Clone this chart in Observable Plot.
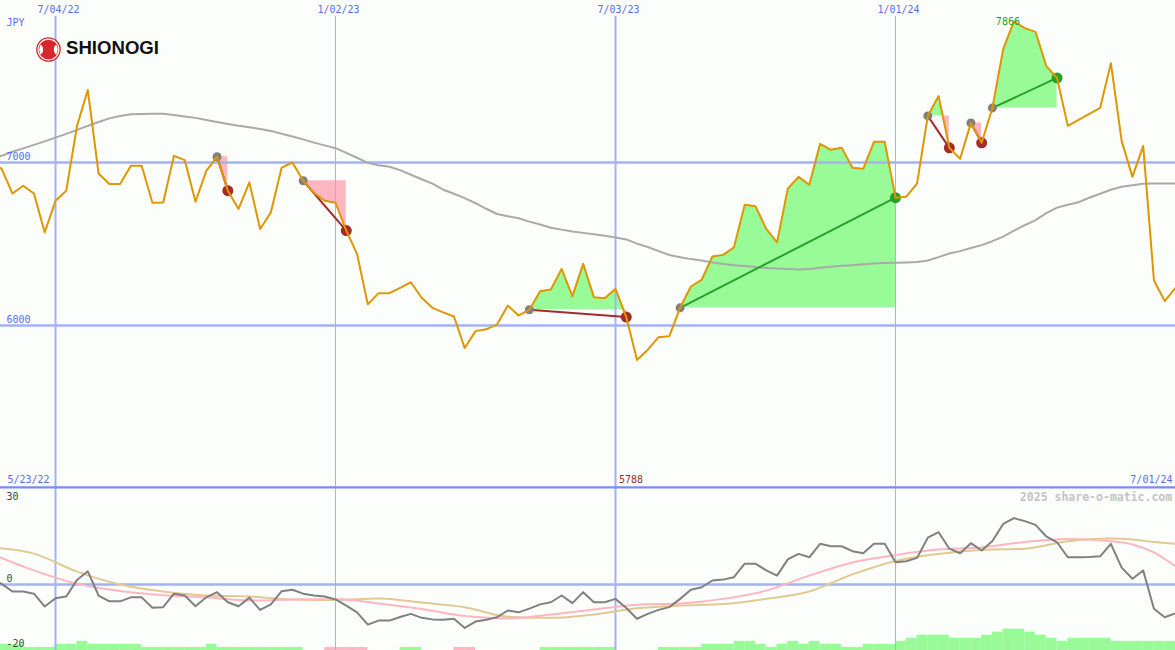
<!DOCTYPE html>
<html>
<head>
<meta charset="utf-8">
<script src="https://cdn.jsdelivr.net/npm/d3@7"></script>
<script src="https://cdn.jsdelivr.net/npm/@observablehq/plot@0.6"></script>
<style>
  html, body { margin: 0; padding: 0; background: #fbfefb; }
  #chart { position: relative; width: 1175px; height: 650px; overflow: hidden; background: #fbfefb; }
  #chart svg.plot { display: block; }
  #logo { position: absolute; left: 0; top: 0; pointer-events: none; }
</style>
</head>
<body>
<div id="chart">
  <svg id="logo" width="200" height="70">
    <defs><clipPath id="logoInner"><circle cx="48.5" cy="49.5" r="9.2"/></clipPath></defs>
    <circle cx="48.5" cy="49.5" r="12.3" fill="#d9262c"/>
    <circle cx="48.5" cy="49.5" r="10.4" fill="none" stroke="#fff" stroke-width="1.1"/>
    <g clip-path="url(#logoInner)">
      <ellipse cx="39.5" cy="49.5" rx="3.6" ry="5.2" fill="#fff"/>
      <ellipse cx="57.5" cy="49.5" rx="3.6" ry="5.2" fill="#fff"/>
    </g>
    <text x="66" y="53.5" font-family="Liberation Sans, Arial, sans-serif" font-weight="bold" font-size="18.6" fill="#111">SHIONOGI</text>
  </svg>
</div>
<script>
// Weekly closing prices (JPY), one per Monday from 5/23/22 to 7/01/24
const prices = [
  7010, 6961, 6810, 6857, 6810, 6571, 6765, 6827, 7225, 7445,
  6933, 6868, 6868, 6980, 6980, 6753, 6755, 7041, 7015, 6759,
  6949, 7035, 6827, 6715, 6878, 6592, 6694, 6969, 7000, 6888,
  6814, 6765, 6753, 6582, 6439, 6129, 6198, 6198, 6231, 6265,
  6170, 6108, 6080, 6055, 5861, 5965, 5976, 6006, 6122, 6061,
  6096, 6210, 6220, 6347, 6178, 6378, 6173, 6167, 6225, 6051,
  5788, 5851, 5928, 5934, 6108, 6239, 6280, 6423, 6433, 6479,
  6741, 6731, 6592, 6510, 6839, 6912, 6863, 7115, 7078, 7090,
  6968, 6961, 7127, 7127, 6784, 6790, 6870, 7286, 7408, 7090,
  7023, 7243, 7121, 7335, 7696, 7866, 7825, 7802, 7592, 7519,
  7225, 7261, 7298, 7335, 7610, 7133, 6912, 7102, 6276, 6149, 6231
];

// Long moving average of the price
const longAverage = [
  7023, 7041, 7066, 7087, 7108, 7130, 7153, 7176, 7200, 7225,
  7249, 7271, 7286, 7296, 7298, 7300, 7300, 7292, 7283, 7274,
  7261, 7249, 7237, 7225, 7216, 7206, 7194, 7176, 7160, 7142,
  7122, 7105, 7088, 7059, 7029, 6998, 6983, 6974, 6953, 6925,
  6897, 6870, 6833, 6808, 6781, 6750, 6716, 6684, 6670, 6658,
  6637, 6619, 6600, 6588, 6576, 6568, 6560, 6551, 6539, 6528,
  6502, 6481, 6456, 6432, 6419, 6407, 6398, 6386, 6377, 6370,
  6364, 6358, 6353, 6349, 6346, 6343, 6347, 6354, 6360, 6366,
  6370, 6375, 6380, 6383, 6384, 6386, 6389, 6398, 6419, 6441,
  6456, 6475, 6493, 6517, 6545, 6582, 6615, 6646, 6689, 6723,
  6741, 6756, 6784, 6808, 6833, 6851, 6860, 6870, 6871, 6871, 6871
];

// Momentum oscillator (lower panel)
const oscillator = [
  2.0, 0.2, -2.3, -2.3, -3.0, -7.2, -4.5, -3.9, 1.5, 4.3,
  -3.6, -5.5, -5.5, -4.2, -4.2, -7.6, -7.4, -3.0, -3.6, -7.1,
  -4.2, -2.5, -5.8, -7.1, -4.3, -8.3, -6.5, -2.2, -1.7, -3.0,
  -3.6, -3.9, -4.9, -6.9, -9.1, -13.1, -11.8, -11.8, -10.6, -9.6,
  -10.9, -11.4, -11.5, -11.2, -14.2, -12.1, -11.5, -10.7, -8.5, -9.1,
  -7.9, -6.5, -5.8, -3.6, -6.1, -2.5, -5.8, -5.8, -4.7, -7.7,
  -11.2, -9.6, -8.3, -7.4, -4.7, -1.7, -0.9, 1.3, 1.6, 2.4,
  6.8, 6.8, 4.6, 2.9, 8.2, 10.0, 8.9, 13.3, 12.5, 12.5,
  10.9, 10.2, 13.3, 13.3, 7.3, 7.6, 8.7, 15.3, 17.1, 11.7,
  10.2, 13.5, 11.1, 14.2, 19.8, 21.7, 20.7, 19.5, 15.7, 13.8,
  8.9, 8.9, 9.0, 9.2, 13.3, 5.5, 1.9, 4.6, -7.9, -10.7, -9.4
];

// Smoothed oscillator averages, sampled at these week numbers
const averageWeeks = [0, 4, 8, 12, 16, 20, 24, 28, 32, 36, 40, 44, 48, 52, 56, 60,
  64, 68, 72, 76, 80, 84, 88, 92, 96, 100, 104, 106, 108, 110];
const fastAverage = [10.1, 4.6, 0.2, -2.1, -3.5, -4.2, -5.2, -4.9, -4.7, -6.2, -8.0, -10.3, -11.1, -9.8, -8.2, -6.6,
  -6.2, -4.7, -2.0, 2.9, 7.2, 9.6, 11.4, 12.1, 13.9, 14.9, 14.1, 13.1, 10.5, 5.9];
const slowAverage = [12.1, 10.1, 4.2, 0.0, -2.3, -3.6, -3.9, -4.9, -5.1, -4.6, -5.9, -7.4, -10.5, -10.9, -9.8, -7.8,
  -6.9, -6.4, -4.7, -2.3, 3.3, 7.7, 10.0, 11.3, 11.7, 14.1, 15.0, 14.7, 13.9, 13.3];

// Trend strength per week (positive = up, negative = down)
const strength = [
  2, 2, 2, 1, 1, 1, 2, 2, 3, 2,
  2, 2, 2, 2, 1, 1, 1, 1, 1, 1,
  2, 1, 1, 1, 1, 1, 1, 1, 1, 0,
  0, -1, -1, -1, -1, 0, 0, 0, 1, 1,
  0, 0, 0, -1, -1, 0, 0, 0, 0, 0,
  0, 1, 1, 1, 1, 1, 1, 1, 0, 0,
  0, 0, 1, 1, 1, 1, 2, 2, 2, 3,
  3, 2, 1, 2, 3, 2, 3, 2, 2, 1,
  1, 2, 2, 2, 3, 4, 5, 5, 5, 4,
  4, 4, 5, 6, 7, 7, 6, 5, 4, 3,
  4, 4, 4, 4, 3, 3, 3, 3, 3, 3
];

// Trade signals: entry week and exit week
const signalStart = [21, 29, 50, 64, 87, 91, 93];
const signalEnd = [22, 33, 59, 84, 89, 92, 99];

// Grid weeks (half-year marks) and price grid levels
const tickWeeks = [6, 32, 58, 84];
const priceGrid = [7000, 6000];
const oscLabels = [30, 0, -20];

// ---------------------------------------------------------------
const firstMonday = Date.UTC(2022, 4, 23);
const WEEK = 7 * 24 * 3600 * 1000;
const dates = prices.map((_, k) => new Date(firstMonday + k * WEEK));
const xDomain = [new Date(firstMonday + 0.893 * WEEK), dates[dates.length - 1]];
const fmt = d3.utcFormat("%-m/%d/%y");

const weeks = prices.map((p, k) => ({date: dates[k], price: p, avg: longAverage[k], osc: oscillator[k]}));
const averages = averageWeeks.map((k, i) => ({date: dates[k], fast: fastAverage[i], slow: slowAverage[i]}));
const tickDates = tickWeeks.map(k => dates[k]);

const signals = signalStart.map((s, i) => {
  const e = signalEnd[i];
  return {x1: dates[s], y1: prices[s], x2: dates[e], y2: prices[e], gain: prices[e] > prices[s]};
});

// Area between the entry level and the price, split where the price crosses it
const fills = [];
signalStart.forEach((s, i) => {
  const e = signalEnd[i], base = prices[s];
  for (let k = s; k <= e; k++) {
    fills.push({id: i, date: dates[k], price: prices[k], base});
    if (k < e) {
      const a = prices[k], b = prices[k + 1];
      if ((a - base) * (b - base) < 0) {
        const t = (base - a) / (b - a);
        fills.push({id: i, date: new Date(+dates[k] + t * (dates[k + 1] - dates[k])), price: base, base});
      }
    }
  }
});

const bars = strength.map((v, k) => ({x1: dates[k], x2: dates[k + 1], v})).filter(d => d.v !== 0 && d.x2);

const hi = d3.greatestIndex(prices), lo = d3.leastIndex(prices);

const mono = "DejaVu Sans Mono, monospace";
const blue = "#5a6cf0";
const grid = "#a3b2f4";
const sep = "#7b8cf0";
const orange = "#df9600";
const green = "#28a028";
const brown = "#a52a2a";
const gridWidth = d => d.getUTCMonth() === 6 ? 2 : 1;

const yMain = [5005, 7994.5];
const yLow = [-21.57, 31.7];

const main = Plot.plot({
  width: 1175, height: 487, margin: 0,
  x: {type: "utc", domain: xDomain, axis: null},
  y: {domain: yMain, axis: null},
  style: {background: "transparent", overflow: "hidden"},
  marks: [
    Plot.areaY(fills, {x: "date", y1: "base", y2: d => Math.max(d.price, d.base), z: "id", fill: "palegreen"}),
    Plot.areaY(fills, {x: "date", y1: "base", y2: d => Math.min(d.price, d.base), z: "id", fill: "lightpink"}),
    Plot.ruleX(tickDates, {x: d => d, insetTop: 16, stroke: grid, strokeWidth: gridWidth}),
    Plot.ruleY(priceGrid, {y: d => d, stroke: grid, strokeWidth: 2.5}),
    Plot.ruleY([yMain[0]], {y: d => d, stroke: sep, strokeWidth: 2.6}),
    Plot.line(weeks, {x: "date", y: "avg", stroke: "darkgray", strokeWidth: 2}),
    Plot.link(signals, {x1: "x1", y1: "y1", x2: "x2", y2: "y2", stroke: d => d.gain ? green : brown, strokeWidth: 2}),
    Plot.dot(signals, {x: "x1", y: "y1", r: 4.5, fill: "gray"}),
    Plot.dot(signals, {x: "x2", y: "y2", r: 5.5, fill: d => d.gain ? green : brown}),
    Plot.line(weeks, {x: "date", y: "price", stroke: orange, strokeWidth: 2}),
    Plot.text(tickDates, {x: d => d, text: d => fmt(d), frameAnchor: "top", lineAnchor: "bottom", dy: 12.7, dx: 3,
      fill: blue, fontFamily: mono, fontSize: 10}),
    Plot.text(["JPY"], {text: d => d, frameAnchor: "top-left", textAnchor: "start", lineAnchor: "bottom", dx: 6, dy: 25,
      fill: blue, fontFamily: mono, fontSize: 10}),
    Plot.text(priceGrid, {y: d => d, text: d => String(d), frameAnchor: "left", textAnchor: "start", lineAnchor: "bottom",
      dx: 6, dy: -2.5, fill: blue, fontFamily: mono, fontSize: 10}),
    Plot.text([dates[0]], {text: d => fmt(d), frameAnchor: "bottom-left", textAnchor: "start", lineAnchor: "bottom",
      dx: 7, dy: -4.3, fill: blue, fontFamily: mono, fontSize: 10}),
    Plot.text([dates[dates.length - 1]], {text: d => fmt(d), frameAnchor: "bottom-right", textAnchor: "end", lineAnchor: "bottom",
      dx: -3, dy: -4.3, fill: blue, fontFamily: mono, fontSize: 10}),
    Plot.text([lo], {x: k => dates[k], text: k => String(prices[k]), frameAnchor: "bottom", lineAnchor: "bottom",
      dx: -6, dy: -4.3, fill: brown, fontFamily: mono, fontSize: 10}),
    Plot.text([hi], {x: k => dates[k], y: k => prices[k], text: k => String(prices[k]), textAnchor: "end", lineAnchor: "bottom",
      dx: 6, dy: 4, fill: green, fontFamily: mono, fontSize: 10})
  ]
});

const lower = Plot.plot({
  width: 1175, height: 163, margin: 0,
  x: {type: "utc", domain: xDomain, axis: null},
  y: {domain: yLow, axis: null},
  style: {background: "transparent", overflow: "hidden"},
  marks: [
    Plot.rect(bars, {x1: "x1", x2: "x2", y1: yLow[0], y2: d => yLow[0] + Math.abs(d.v), fill: d => d.v > 0 ? "palegreen" : "lightpink"}),
    Plot.ruleX(tickDates, {x: d => d, stroke: grid, strokeWidth: gridWidth}),
    Plot.ruleY([0], {y: d => d, stroke: grid, strokeWidth: 2.3}),
    Plot.ruleY([yLow[1]], {y: d => d, stroke: sep, strokeWidth: 2}),
    Plot.line(averages, {x: "date", y: "slow", stroke: "#e2c994", strokeWidth: 2, curve: "monotone-x"}),
    Plot.line(averages, {x: "date", y: "fast", stroke: "lightpink", strokeWidth: 2, curve: "monotone-x"}),
    Plot.line(weeks, {x: "date", y: "osc", stroke: "gray", strokeWidth: 2}),
    Plot.text([oscLabels[0]], {y: d => d, text: d => String(d), frameAnchor: "left", textAnchor: "start", lineAnchor: "bottom",
      dx: 6, dy: 7.3, fill: "#444", fontFamily: mono, fontSize: 10}),
    Plot.text([oscLabels[1]], {y: d => d, text: d => String(d), frameAnchor: "left", textAnchor: "start", lineAnchor: "bottom",
      dx: 6, dy: -2.3, fill: "#444", fontFamily: mono, fontSize: 10}),
    Plot.text([oscLabels[2]], {y: d => d, text: d => String(d), frameAnchor: "left", textAnchor: "start", lineAnchor: "bottom",
      dx: 6, dy: 1.5, fill: "#444", fontFamily: mono, fontSize: 10}),
    Plot.text(["2025 share-o-matic.com"], {text: d => d, frameAnchor: "top-right", textAnchor: "end", lineAnchor: "bottom",
      dx: -3.3, dy: 13, fill: "#c4c4c4", fontWeight: "bold", fontFamily: mono, fontSize: 11.5})
  ]
});

const chart = document.getElementById("chart");
chart.insertBefore(lower, chart.firstChild);
chart.insertBefore(main, chart.firstChild);
</script>
</body>
</html>
